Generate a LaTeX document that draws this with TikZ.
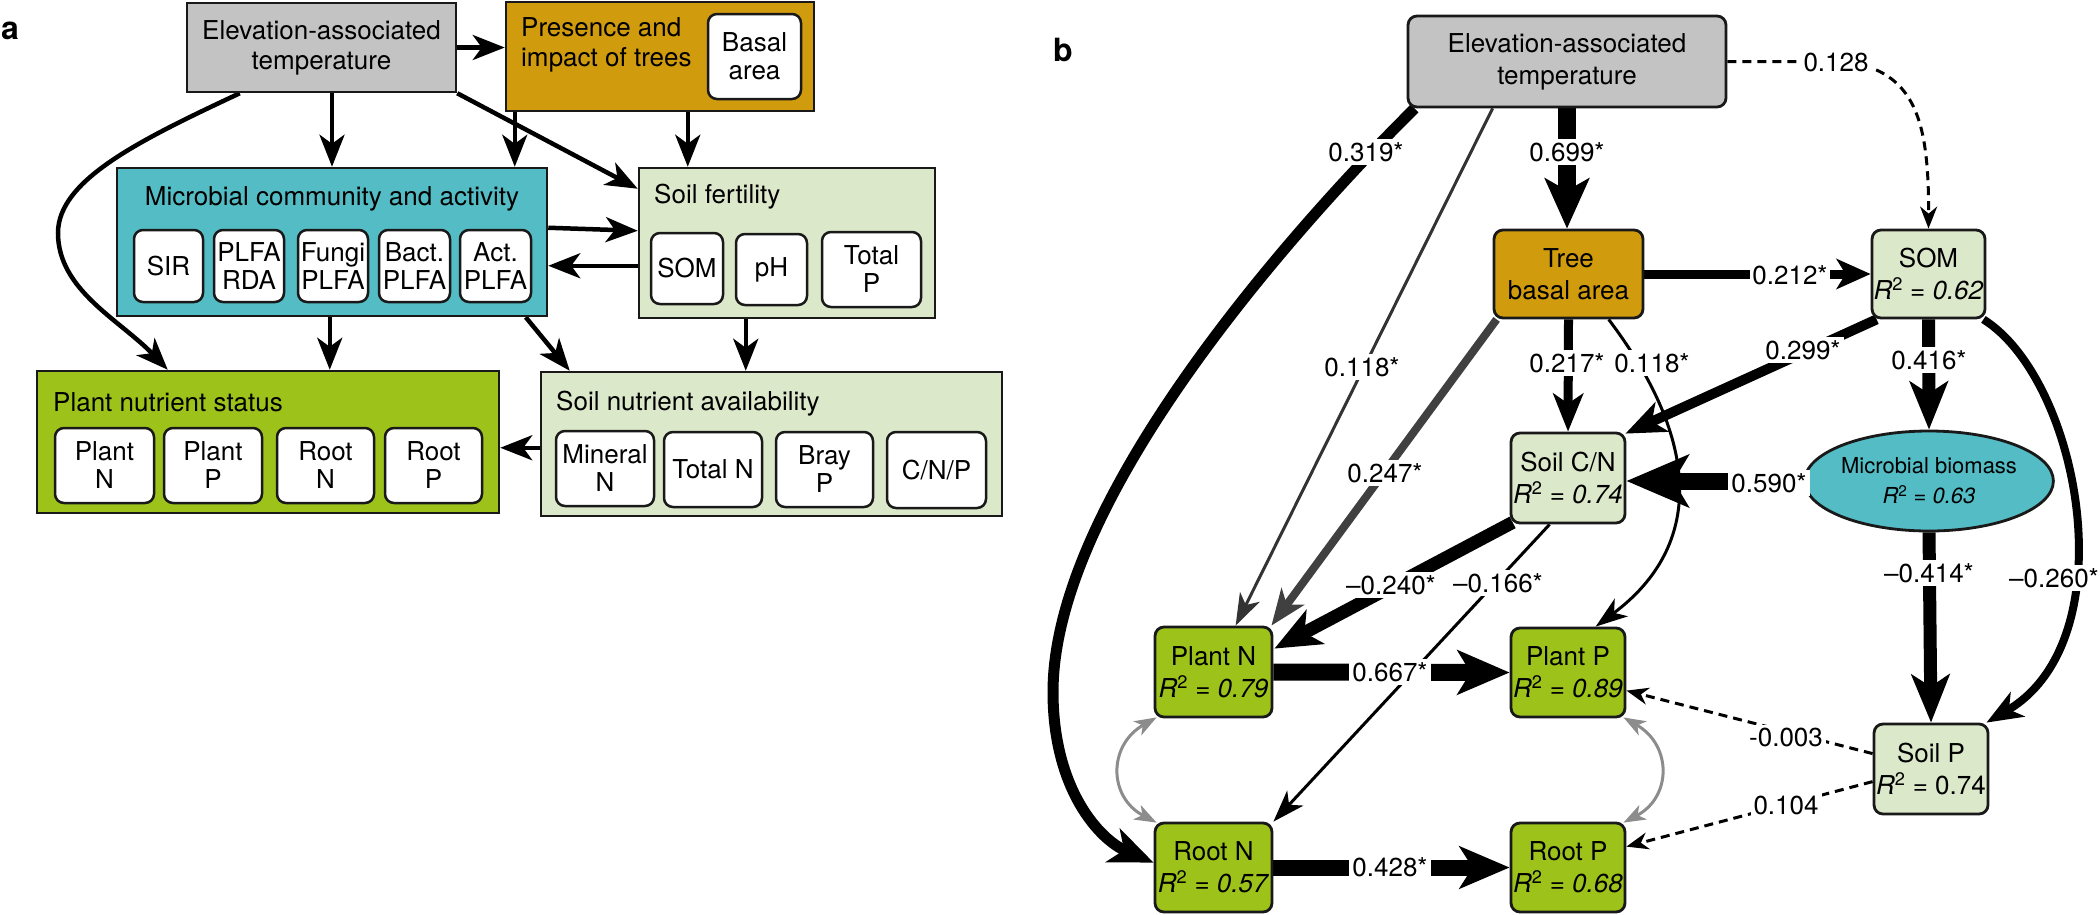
\documentclass[tikz,border=0pt]{standalone}
\usepackage{fontspec}
\setmainfont{TeX Gyre Heros}
\usetikzlibrary{arrows.meta,calc,shapes.geometric}
\pgfdeclarelayer{bg}
\pgfsetlayers{bg,main}

\definecolor{tempgrey}{HTML}{C3C3C3}
\definecolor{treegold}{HTML}{D09B0D}
\definecolor{microteal}{HTML}{53BCC4}
\definecolor{soilgreen}{HTML}{DCE8CA}
\definecolor{plantgreen}{HTML}{9DC31B}

\newcommand\mainfs{\fontsize{26}{30}\selectfont}
\newcommand\rsq[1]{\textit{R}\textsuperscript{2} \textit{= #1}}

\tikzset{
  panelbox/.style={draw=black!90, line width=2.5pt, inner sep=0pt},
  inbox/.style={draw=black!90, fill=white, line width=2.5pt, rounded corners=9pt,
    align=center, inner sep=0pt, font=\fontsize{26}{28}\selectfont},
  title/.style={inner sep=0pt, font=\mainfs},
  varbox/.style={draw=black!90, line width=2.8pt, rounded corners=9pt, align=center,
    inner sep=0pt, font=\fontsize{26}{32}\selectfont},
  aarrow/.style={line width=4.5pt, -{Stealth[length=32pt,width=25pt,inset=9pt]}},
  tipsz/.style n args={3}{-{Stealth[length=#1,width=#2,inset=#3]}},
  coef/.style={fill=white, inner sep=3pt, font=\mainfs},
  panellabel/.style={inner sep=0pt, font=\fontsize{32}{32}\selectfont\bfseries},
}

\begin{document}
\begin{tikzpicture}[x=1pt, y=-1pt]
\useasboundingbox (0,0) rectangle (2100,914);

% ---------------- panel a ----------------
\node[panellabel] (lbla) at (10,31) {a};

\node[panelbox, fill=tempgrey, minimum width=269pt, minimum height=89pt,
  align=center, font=\mainfs] (elevA) at (321.5,47.5)
  {Elevation-associated\\temperature};
\node[panelbox, fill=treegold, minimum width=308pt, minimum height=109pt] (presA) at (660,56.5) {};
\node[title, anchor=west, align=left] (presT) at (521,45) {Presence and\\impact of trees};
\node[inbox, minimum width=93pt, minimum height=85pt] (basal) at (754.5,56.5) {Basal\\area};

\node[panelbox, fill=microteal, minimum width=430pt, minimum height=148pt] (microA) at (332,242) {};
\node[title] (microT) at (332,199) {Microbial community and activity};
\node[inbox, minimum width=69pt, minimum height=72pt] (sir) at (168.5,266) {SIR};
\node[inbox, minimum width=70pt, minimum height=72pt] (plfa) at (249,266) {PLFA\\RDA};
\node[inbox, minimum width=70pt, minimum height=72pt] (fungi) at (333,266) {Fungi\\PLFA};
\node[inbox, minimum width=71pt, minimum height=72pt] (bact) at (414.5,266) {Bact.\\PLFA};
\node[inbox, minimum width=71pt, minimum height=72pt] (act) at (495.5,266) {Act.\\PLFA};

\node[panelbox, fill=soilgreen, minimum width=296pt, minimum height=150pt] (soilfA) at (787,243) {};
\node[title, anchor=west] (soilfT) at (654,197) {Soil fertility};
\node[inbox, minimum width=72pt, minimum height=71pt] (soma) at (687,268.5) {SOM};
\node[inbox, minimum width=71pt, minimum height=71pt] (ph) at (771.5,269.5) {pH};
\node[inbox, minimum width=99pt, minimum height=75pt] (totp) at (871.5,269.5) {Total\\P};

\node[panelbox, fill=plantgreen, minimum width=462pt, minimum height=142pt] (plantA) at (268,442) {};
\node[title, anchor=west] (plantT) at (53,402) {Plant nutrient status};
\node[inbox, minimum width=99pt, minimum height=75pt] (pna) at (104.5,465.5) {Plant\\N};
\node[inbox, minimum width=98pt, minimum height=75pt] (ppa) at (213,465.5) {Plant\\P};
\node[inbox, minimum width=97pt, minimum height=75pt] (rna) at (325.5,465.5) {Root\\N};
\node[inbox, minimum width=97pt, minimum height=75pt] (rpa) at (433.5,465.5) {Root\\P};

\node[panelbox, fill=soilgreen, minimum width=461pt, minimum height=144pt] (soilnA) at (771.5,444) {};
\node[title, anchor=west] (soilnT) at (556,404) {Soil nutrient availability};
\node[inbox, minimum width=98pt, minimum height=75pt] (mineral) at (605,468.5) {Mineral\\N};
\node[inbox, minimum width=98pt, minimum height=75pt] (totn) at (713,469.5) {Total N};
\node[inbox, minimum width=97pt, minimum height=75pt] (bray) at (824.5,469.5) {Bray\\P};
\node[inbox, minimum width=99pt, minimum height=76pt] (cnp) at (936.5,470) {C/N/P};

\begin{pgfonlayer}{bg}
  \draw[aarrow] (elevA.east) -- (elevA.east -| presA.west);
  \draw[aarrow] (microA.north |- elevA.south) -- (microA.north);
  \draw[aarrow] ($(presA.south west)+(10,0)$) -- ($(microA.north west)+(399,0)$);
  \draw[aarrow] (elevA.south east) -- ($(soilfA.north west)+(0,22)$);
  \draw[aarrow] ($(presA.south west)+(183,0)$) -- ($(soilfA.north west)+(50,0)$);
  \draw[aarrow] ($(microA.north east)+(0,61)$) -- ($(soilfA.north west)+(0,64)$);
  \draw[aarrow] ($(soilfA.north west)+(0,99)$) -- ($(microA.north east)+(0,99)$);
  \draw[aarrow] ($(elevA.south west)+(54,0)$) .. controls (140,140) and (58,180) .. (58,233)
    .. controls (58,290) and (120,320) .. ($(plantA.north west)+(132,0)$);
  \draw[aarrow] ($(microA.south west)+(214,0)$) -- ($(plantA.north west)+(294,0)$);
  \draw[aarrow] ($(microA.south west)+(410,0)$) -- ($(soilnA.north west)+(30,0)$);
  \draw[aarrow] ($(soilfA.south west)+(108,0)$) -- ($(soilnA.north west)+(206,0)$);
  \draw[aarrow] ($(soilnA.north west)+(0,77)$) -- ($(plantA.north east)+(0,78)$);
\end{pgfonlayer}

% ---------------- panel b ----------------
\node[panellabel] (lblb) at (1063,50) {b};

\node[varbox, fill=tempgrey, minimum width=318pt, minimum height=91pt] (E2) at (1567,61.5)
  {Elevation-associated\\temperature};
\node[varbox, fill=treegold, minimum width=149pt, minimum height=88pt] (TB) at (1568.5,274)
  {Tree\\basal area};
\node[varbox, fill=soilgreen, minimum width=113pt, minimum height=88pt] (SOM) at (1928.5,274)
  {SOM\\\rsq{0.62}};
\node[varbox, fill=soilgreen, minimum width=114pt, minimum height=90pt] (SCN) at (1568,478)
  {Soil C/N\\\rsq{0.74}};
\node[ellipse, draw=black!90, line width=2.8pt, fill=microteal, minimum width=216pt,
  minimum height=100pt, inner sep=0pt, align=center, font=\fontsize{22}{30}\selectfont]
  (MB) at (1929,481) {Microbial biomass\\\rsq{0.63}};
\node[varbox, fill=plantgreen, minimum width=117pt, minimum height=90pt] (PN) at (1213.5,672)
  {Plant N\\\rsq{0.79}};
\node[varbox, fill=plantgreen, minimum width=114pt, minimum height=89pt] (PP) at (1568,672.5)
  {Plant P\\\rsq{0.89}};
\node[varbox, fill=plantgreen, minimum width=117pt, minimum height=89pt] (RN) at (1213.5,867.5)
  {Root N\\\rsq{0.57}};
\node[varbox, fill=plantgreen, minimum width=114pt, minimum height=89pt] (RP) at (1568,867.5)
  {Root P\\\rsq{0.68}};
\node[varbox, fill=soilgreen, minimum width=114pt, minimum height=90pt] (SP) at (1931,769)
  {Soil P\\\textit{R}\textsuperscript{2} = 0.74};

\begin{pgfonlayer}{bg}
  % temperature paths
  \draw[line width=11pt, tipsz={44pt}{36pt}{12pt}]
    ($(E2.south west)+(8,0)$) .. controls (1290,232) and (1053,500) .. (1053,692)
    .. controls (1053,790) and (1100,840) .. ($(RN.north west)+(0,41)$);
  \draw[line width=3pt, black!80, tipsz={32pt}{22pt}{9pt}]
    ($(E2.south west)+(86,0)$) -- ($(PN.north west)+(82,0)$);
  \draw[line width=18pt, tipsz={50pt}{44pt}{12pt}] (E2.south) -- (E2.south |- TB.north);
  \draw[line width=3pt, dashed, dash pattern=on 9pt off 6pt, tipsz={22pt}{17pt}{7pt}]
    (E2.east) -- ($(E2.east)+(119,0)$) .. controls (1915,72) and (1929,120) .. (SOM.north);
  % tree basal area paths
  \draw[line width=9pt, tipsz={34pt}{30pt}{9pt}] (TB.east) -- (SOM.west);
  \draw[line width=9pt, tipsz={38pt}{30pt}{10pt}] (TB.south) -- (SCN.north);
  \draw[line width=3pt, tipsz={32pt}{22pt}{9pt}]
    ($(TB.south west)+(116,0)$) .. controls (1700,440) and (1705,545) .. ($(PP.north west)+(86,0)$);
  \draw[line width=8pt, black!75, tipsz={36pt}{28pt}{10pt}]
    ($(TB.south west)+(4,0)$) -- ($(PN.north east)+(-2,0)$);
  % SOM paths
  \draw[line width=10pt, tipsz={40pt}{32pt}{11pt}]
    ($(SOM.south west)+(6,0)$) -- ($(SCN.north east)+(-1,2)$);
  \draw[line width=13pt, tipsz={48pt}{38pt}{12pt}] (SOM.south) -- (MB.north);
  \draw[line width=8pt, tipsz={36pt}{28pt}{10pt}]
    ($(SOM.south east)+(-3,0)$) .. controls (2080,380) and (2128,640) .. ($(SP.north east)+(-3,0)$);
  % microbial biomass paths
  \draw[line width=17pt, tipsz={62pt}{52pt}{15pt}] (MB.west) -- (MB.west -| SCN.east);
  \draw[line width=13pt, tipsz={48pt}{38pt}{12pt}] (MB.south) -- (SP.north);
  % soil C/N paths
  \draw[line width=13pt, tipsz={46pt}{38pt}{12pt}]
    ($(SCN.south west)+(3,-2)$) -- ($(PN.north east)+(1,23)$);
  \draw[line width=3pt, tipsz={32pt}{22pt}{9pt}]
    ($(SCN.south west)+(40,0)$) -- (RN.north east);
  % plant paths
  \draw[line width=17pt, tipsz={52pt}{44pt}{13pt}] (PN.east) -- (PP.west);
  \draw[line width=16pt, tipsz={50pt}{42pt}{13pt}] (RN.east) -- (RP.west);
  \draw[line width=3pt, black!45, {Stealth[length=22pt,width=16pt,inset=6pt]}-{Stealth[length=22pt,width=16pt,inset=6pt]}]
    ($(PN.south west)+(3,-1)$) .. controls (1108,745) and (1108,797) .. ($(RN.north west)+(3,1)$);
  \draw[line width=3pt, black!45, {Stealth[length=22pt,width=16pt,inset=6pt]}-{Stealth[length=22pt,width=16pt,inset=6pt]}]
    ($(PP.south east)+(-3,-1)$) .. controls (1672,745) and (1672,797) .. ($(RP.north east)+(-3,1)$);
  % soil P paths
  \draw[line width=3pt, dashed, dash pattern=on 9pt off 6pt, tipsz={22pt}{17pt}{7pt}]
    ($(SP.north west)+(0,31)$) -- ($(PP.north east)+(0,64)$);
  \draw[line width=3pt, dashed, dash pattern=on 9pt off 6pt, tipsz={22pt}{17pt}{7pt}]
    ($(SP.north west)+(0,59)$) -- ($(RP.north east)+(0,25)$);
\end{pgfonlayer}

% path coefficients
\node[coef] (c319) at (1366,152) {0.319*};
\node[coef] (c118a) at (1362,367) {0.118*};
\node[coef] (c699) at (1567,152) {0.699*};
\node[coef] (c128) at (1836,62) {0.128};
\node[coef, inner sep=2pt] (c212) at (1790,275) {0.212*};
\node[coef] (c217) at (1567,363) {0.217*};
\node[coef] (c118b) at (1652,363) {0.118*};
\node[coef] (c247) at (1385,473) {0.247*};
\node[coef] (c299) at (1803,350) {0.299*};
\node[coef] (c416) at (1929,360) {0.416*};
\node[coef] (c260) at (2054,578) {--0.260*};
\node[coef] (c590) at (1769,483) {0.590*};
\node[coef] (c414) at (1929,573) {--0.414*};
\node[coef] (c240) at (1391,585) {--0.240*};
\node[coef] (c166) at (1498,583) {--0.166*};
\node[coef] (c667) at (1390,672) {0.667*};
\node[coef] (c428) at (1390,867) {0.428*};
\node[coef] (c003) at (1786,737) {-0.003};
\node[coef] (c104) at (1786,805) {0.104};
\end{tikzpicture}
\end{document}
